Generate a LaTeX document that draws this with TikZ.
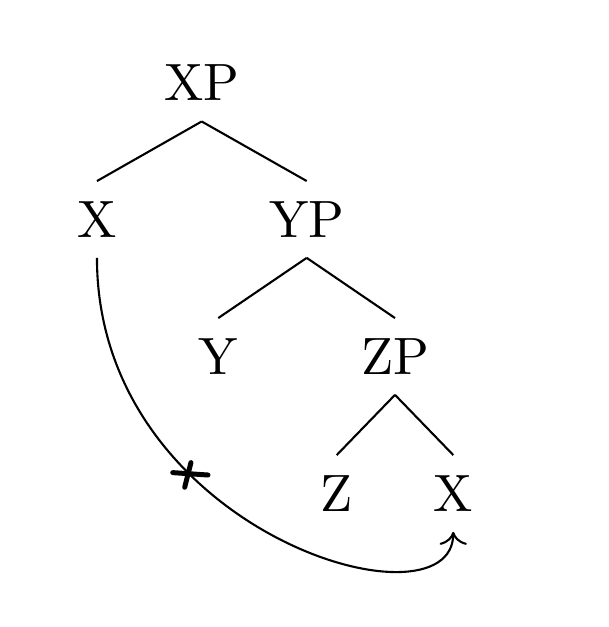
\documentclass[tikz,border=0pt]{standalone}
\usepackage{tikz}
\usetikzlibrary{arrows.meta}

\begin{document}
\begin{tikzpicture}[
    cat/.style={inner xsep=3.33pt, inner ysep=3.7pt},
    branch/.style={thin, black},
    move/.style={->, thin, black},
    crossmark/.style={line width=0.95pt, line cap=round}
  ]
        \useasboundingbox (0,0) rectangle (4.070,-4.197);

        % Wurzel und erste Ebene
        \node[cat] (xp) at (1.350, -0.556) {XP};
        \node[cat] (xa) at (0.649, -1.469) {X};
        \node[cat] (yp) at (2.053, -1.469) {YP};
        \draw[branch] (xp.south) -- (xa.north);
        \draw[branch] (xp.south) -- (yp.north);

        % zweite Ebene
        \node[cat] (y) at (1.461, -2.386) {Y};
        \node[cat] (zp) at (2.644, -2.386) {ZP};
        \draw[branch] (yp.south) -- (y.north);
        \draw[branch] (yp.south) -- (zp.north);

        % dritte Ebene
        \node[cat] (z) at (2.254, -3.303) {Z};
        \node[cat] (xb) at (3.034, -3.303) {X};
        \draw[branch] (zp.south) -- (z.north);
        \draw[branch] (zp.south) -- (xb.north);

        % Bewegung X -> X (gesperrt)
        \draw[move] (xa.south) .. controls +(0,-1.84) and +(0,-0.69) .. (xb.south) coordinate[pos=0.333] (cut);
        \draw[crossmark] (cut) +(-0.11,0.008) -- +(0.126,-0.008);
        \draw[crossmark] (cut) +(0.012,0.075) -- +(-0.03,-0.09);

    \end{tikzpicture}
\end{document}
